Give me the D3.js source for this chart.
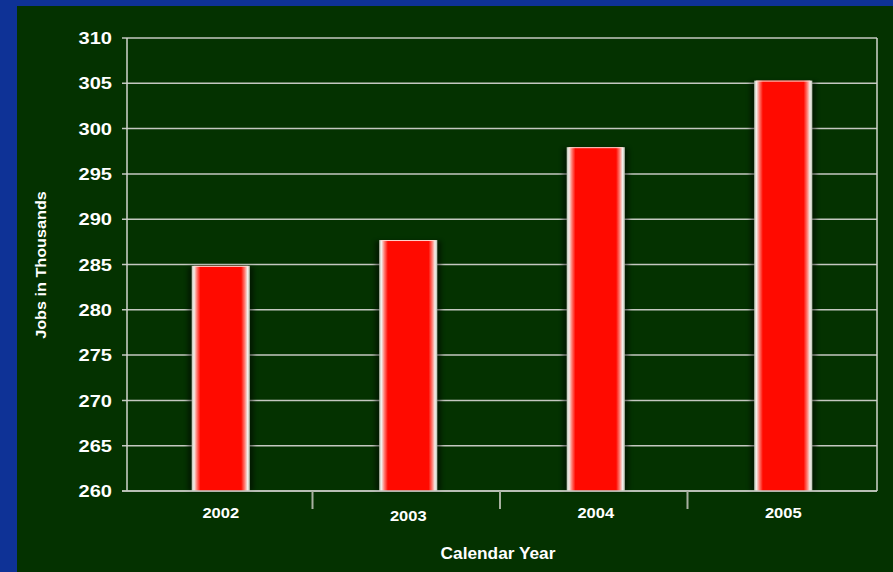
<!DOCTYPE html>
<html><head><meta charset="utf-8">
<script src="https://cdn.jsdelivr.net/npm/d3@7"></script>
<style>
html,body{margin:0;padding:0;background:#0e3296;}
svg{display:block;}
text{font-family:"Liberation Sans",Arial,Helvetica,sans-serif;font-weight:bold;fill:#ffffff;}
</style></head>
<body>
<svg id="chart" width="893" height="572"></svg>
<script>
const categories = ["2002", "2003", "2004", "2005"];
const values = [284.85, 287.7, 297.95, 305.3];
const yTicks = [260, 265, 270, 275, 280, 285, 290, 295, 300, 305, 310];
const yTitle = "Jobs in Thousands";
const xTitle = "Calendar Year";

const W = 893, H = 572;
const SX = 1.18; // horizontal stretch of the original slide text
const svg = d3.select("#chart");
const m = {left:127, right:16, top:38, bottom:81};
const pw = W - m.left - m.right, ph = H - m.top - m.bottom;

// backgrounds
svg.append("rect").attr("width",W).attr("height",H).attr("fill","#0e3296");
svg.append("rect").attr("x",17).attr("y",6).attr("width",W-17).attr("height",H-6).attr("fill","#043200");

const defs = svg.append("defs");
const g1 = defs.append("linearGradient").attr("id","barGrad").attr("x1","0").attr("x2","1").attr("y1","0").attr("y2","0");
[["0%","#b8c0b0"],["4%","#f4eeea"],["9%","#ff7a70"],["15%","#ff0a00"],["85%","#ff0a00"],["91%","#ff7a70"],["96%","#f4eeea"],["100%","#b8c0b0"]]
  .forEach(s=>g1.append("stop").attr("offset",s[0]).attr("stop-color",s[1]));
const blur = defs.append("filter").attr("id","shadow").attr("x","-30%").attr("y","-10%").attr("width","160%").attr("height","120%");
blur.append("feGaussianBlur").attr("stdDeviation",2);

const x = d3.scaleBand().domain(categories).range([m.left, m.left+pw]);
const y = d3.scaleLinear().domain([260,310]).range([m.top+ph, m.top]);

// gridlines
svg.append("g").selectAll("line").data(yTicks).join("line")
  .attr("x1", m.left-5).attr("x2", m.left+pw)
  .attr("y1", d=>y(d)).attr("y2", d=>y(d))
  .attr("stroke","#c4c8c0").attr("stroke-width",1.5);

// plot frame verticals
svg.append("line").attr("x1",m.left).attr("x2",m.left).attr("y1",y(310)).attr("y2",y(260)).attr("stroke","#d0d4cc").attr("stroke-width",1.5);
svg.append("line").attr("x1",m.left+pw).attr("x2",m.left+pw).attr("y1",y(310)).attr("y2",y(260)).attr("stroke","#d0d4cc").attr("stroke-width",1.5);

// bars
const bw = x.bandwidth()*0.31;
const bars = svg.append("g").selectAll("g").data(categories).join("g");
bars.append("rect")
  .attr("x", d=>x(d)+x.bandwidth()/2-bw/2-4)
  .attr("y", (d,i)=>y(values[i])+1)
  .attr("width", bw+8)
  .attr("height", (d,i)=>y(260)-y(values[i])-1)
  .attr("fill","#000000").attr("opacity",0.45).attr("filter","url(#shadow)");
bars.append("rect")
  .attr("x", d=>x(d)+x.bandwidth()/2-bw/2)
  .attr("y", (d,i)=>y(values[i]))
  .attr("width", bw)
  .attr("height", (d,i)=>y(260)-y(values[i]))
  .attr("fill","url(#barGrad)");
bars.append("line")
  .attr("x1", d=>x(d)+x.bandwidth()/2-bw/2+2)
  .attr("x2", d=>x(d)+x.bandwidth()/2+bw/2-2)
  .attr("y1", (d,i)=>y(values[i])+0.5)
  .attr("y2", (d,i)=>y(values[i])+0.5)
  .attr("stroke","#ffd8d0").attr("stroke-width",1);

// x axis baseline
svg.append("line").attr("x1",m.left-5).attr("x2",m.left+pw).attr("y1",y(260)).attr("y2",y(260)).attr("stroke","#c4c8c0").attr("stroke-width",1.5);
// category separator ticks
svg.append("g").selectAll("line").data(categories.slice(1)).join("line")
  .attr("x1", d=>x(d)-2).attr("x2", d=>x(d)-2)
  .attr("y1", y(260)).attr("y2", y(260)+18)
  .attr("stroke","#a8b0a0").attr("stroke-width",2);

// y tick labels
svg.append("g").selectAll("text").data(yTicks).join("text")
  .attr("transform", d=>`translate(112,${y(d)}) scale(${SX},1)`)
  .attr("dy","0.36em")
  .attr("text-anchor","end").style("font-size","17px")
  .text(d=>d);

// x labels
svg.append("g").selectAll("text").data(categories).join("text")
  .attr("transform", (d,i)=>`translate(${x(d)+x.bandwidth()/2},${i===1 ? 521 : 518}) scale(${SX},1)`)
  .attr("text-anchor","middle").style("font-size","14px")
  .text(d=>d);

// axis titles
svg.append("text").attr("transform",`translate(498,559) scale(1.08,1)`).attr("text-anchor","middle").style("font-size","16px").text(xTitle);
svg.append("text").attr("transform",`translate(46,265) rotate(-90) scale(1.08,1)`).attr("text-anchor","middle").style("font-size","15px").text(yTitle);
</script>
</body></html>
